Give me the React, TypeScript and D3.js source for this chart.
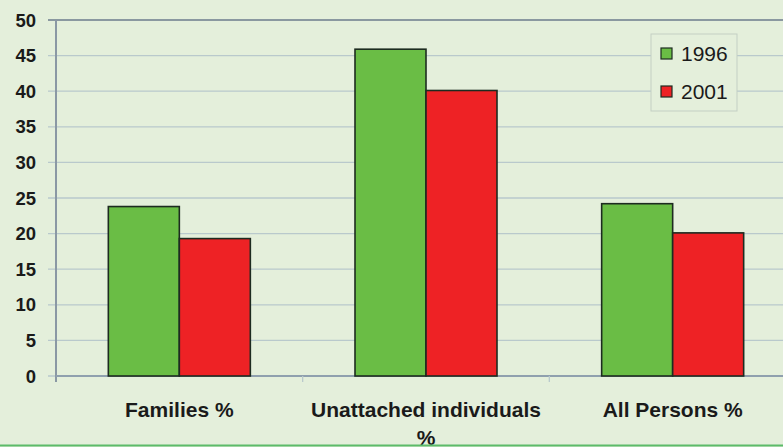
import React from "react";
import * as d3 from "d3";

const categories = ["Families %", "Unattached individuals %", "All Persons %"];
const categoryLines = [["Families %"], ["Unattached individuals", "%"], ["All Persons %"]];
const seriesNames = ["1996", "2001"];
const values1996 = [23.8, 45.9, 24.2];
const values2001 = [19.3, 40.1, 20.1];
const yTicks = [0, 5, 10, 15, 20, 25, 30, 35, 40, 45, 50];

const W = 783;
const H = 447;
const plotLeft = 56;
const plotRight = 796;
const plotTop = 20;
const plotBottom = 376;
const colors = ["#6abd45", "#ee2225"];

export default function App() {
  const x = d3.scaleBand<string>().domain(categories).range([plotLeft, plotRight]).paddingInner(0).paddingOuter(0);
  const inner = d3.scaleBand<string>().domain(seriesNames).range([0, 142]);
  const y = d3.scaleLinear().domain([0, 50]).range([plotBottom, plotTop]);
  const series = [values1996, values2001];
  const bw = x.bandwidth();
  const font = "'Liberation Sans', Arial, sans-serif";
  return (
    <svg width={W} height={H} style={{ position: "absolute", left: 0, top: 0 }} fontFamily={font}>
      <rect x={0} y={0} width={W} height={H} fill="#e4efdb" />
      {yTicks.map((t) => (
        <line key={t} x1={plotLeft - 8} x2={plotRight} y1={y(t)} y2={y(t)} stroke={t === 50 ? "#8a98a0" : "#b9c9cc"} strokeWidth={t === 50 ? 2 : 1.3} />
      ))}
      <line x1={plotLeft} x2={plotLeft} y1={plotTop} y2={plotBottom + 6} stroke="#8a98a4" strokeWidth={2} />
      <line x1={plotLeft} x2={plotRight} y1={plotBottom} y2={plotBottom} stroke="#8fa0ae" strokeWidth={2} />
      {categories.map((c) => (
        <line key={c} x1={(x(c) as number) + bw} x2={(x(c) as number) + bw} y1={plotBottom} y2={plotBottom + 6} stroke="#b9c9cc" strokeWidth={1.3} />
      ))}
      {yTicks.map((t) => (
        <text key={t} x={36} y={y(t)} dy="0.36em" textAnchor="end" fontSize={18.5} fontWeight="bold" fill="#1a1a1a">
          {t}
        </text>
      ))}
      {categories.map((c, ci) => {
        const cx = (x(c) as number) + bw / 2;
        const x0 = cx - 71;
        return series.map((s, si) => (
          <rect
            key={c + si}
            x={x0 + (inner(seriesNames[si]) as number)}
            y={y(s[ci])}
            width={inner.bandwidth()}
            height={plotBottom - y(s[ci])}
            fill={colors[si]}
            stroke="#1d2b20"
            strokeWidth={1.6}
          />
        ));
      })}
      {categories.map((c, ci) => {
        const cx = (x(c) as number) + bw / 2;
        return categoryLines[ci].map((ln, li) => (
          <text key={c + li} x={cx} y={417 + li * 28} textAnchor="middle" fontSize={21} fontWeight="bold" fill="#1a1a1a">
            {ln}
          </text>
        ));
      })}
      <rect x={651} y={34} width={86} height={77} fill="#e4efdb" stroke="#c3cfc4" strokeWidth={1} />
      {seriesNames.map((n, i) => (
        <g key={n}>
          <rect x={661} y={48 + i * 38} width={11} height={11} fill={colors[i]} stroke="#1d2b20" strokeWidth={1.2} />
          <text x={681} y={53 + i * 38} dy="0.36em" fontSize={21} fill="#1a1a1a">
            {n}
          </text>
        </g>
      ))}
      <line x1={0} x2={W} y1={445.5} y2={445.5} stroke="#5cbb6a" strokeWidth={2} />
    </svg>
  );
}
